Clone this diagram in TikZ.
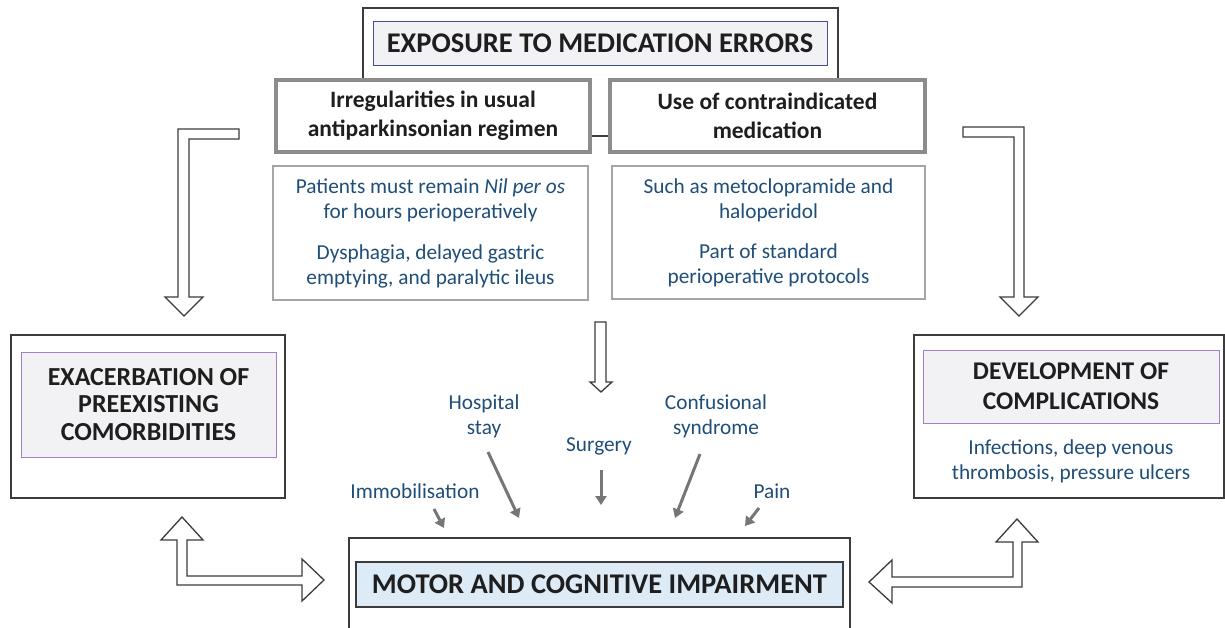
\documentclass[tikz,border=0pt]{standalone}
\usepackage{fontspec}
\setmainfont{Carlito}
\usetikzlibrary{arrows.meta}
\definecolor{txtblue}{RGB}{31,78,121}
\definecolor{txtdark}{RGB}{30,30,30}
\definecolor{garr}{RGB}{118,118,118}
\definecolor{gbord}{RGB}{140,140,140}
\definecolor{lbord}{RGB}{165,165,165}
\definecolor{obord}{RGB}{60,60,60}
\definecolor{expfill}{RGB}{242,242,246}
\definecolor{expbord}{RGB}{70,80,140}
\definecolor{purb}{RGB}{165,125,200}
\definecolor{purfill}{RGB}{242,242,244}
\definecolor{motfill}{RGB}{221,235,247}
\tikzset{
  outerbox/.style={draw=obord, line width=1.4pt, fill=white, rectangle, inner sep=0pt},
  graybox/.style={draw=gbord, line width=3.5pt, fill=white, rectangle, inner sep=0pt,
    align=center, text=txtdark, font=\fontsize{23.5}{29}\selectfont\bfseries},
  lightbox/.style={draw=lbord, line width=1.3pt, fill=white, rectangle, inner sep=0pt,
    align=center, text=txtblue, font=\fontsize{21.3}{25}\selectfont},
  titlebox/.style={rectangle, inner sep=0pt, align=center, text=txtdark,
    font=\fontsize{26}{27.5}\selectfont\bfseries},
  bluetxt/.style={inner sep=0pt, align=center, text=txtblue, font=\fontsize{21.3}{25}\selectfont},
  garrow/.style={draw=garr, line width=3pt, -{Triangle[length=9pt,width=11pt]}},
  hollow/.style={draw=obord, line width=1.3pt, fill=white, line join=miter}
}
\begin{document}
\begin{tikzpicture}[x=1pt,y=-1pt]
\useasboundingbox (0,0) rectangle (1225,627);
\fill[white] (0,0) rectangle (1225,627);

% top group
\node[outerbox, minimum width=475pt, minimum height=128pt] (outerTop) at (600.5,72) {};
\node[titlebox, draw=expbord, line width=1pt, fill=expfill, minimum width=454pt, minimum height=44pt,
  font=\fontsize{28.5}{30}\selectfont\bfseries] (expo) at (600,43) {EXPOSURE TO MEDICATION ERRORS};
\node[graybox, minimum width=314pt, minimum height=72pt] (irr) at (433,116)
  {Irregularities in usual\\antiparkinsonian regimen};
\node[graybox, minimum width=315pt, minimum height=72pt] (use) at (767.5,116)
  {Use of contraindicated\\medication};
\node[lightbox, minimum width=315pt, minimum height=134pt] (nil) at (430.5,233)
  {Patients must remain \textit{Nil per os}\\for hours perioperatively\\[16pt]Dysphagia, delayed gastric\\emptying, and paralytic ileus};
\node[lightbox, minimum width=313pt, minimum height=133pt] (such) at (768.5,232.5)
  {Such as metoclopramide and\\haloperidol\\[15pt]Part of standard\\perioperative protocols};

% left group
\node[outerbox, minimum width=274pt, minimum height=163pt] (leftBox) at (148,416.5) {};
\node[titlebox, draw=purb, line width=1pt, fill=purfill, minimum width=255pt, minimum height=105pt] (exac) at (148.5,404.5)
  {EXACERBATION OF\\PREEXISTING\\COMORBIDITIES};

% right group
\node[outerbox, minimum width=310pt, minimum height=163pt] (rightBox) at (1069,416.5) {};
\node[titlebox, draw=purb, line width=1pt, fill=purfill, minimum width=296pt, minimum height=73pt,
  font=\fontsize{25.5}{30}\selectfont\bfseries] (devel) at (1071,386.5)
  {DEVELOPMENT OF\\COMPLICATIONS};
\node[bluetxt] (infect) at (1071,461) {Infections, deep venous\\thrombosis, pressure ulcers};

% bottom group
\node[outerbox, minimum width=501pt, minimum height=110pt] (botBox) at (599.5,593) {};
\node[titlebox, draw=obord, line width=1.2pt, fill=motfill, minimum width=487pt, minimum height=45pt,
  font=\fontsize{28.5}{30}\selectfont\bfseries] (motor) at (599.5,584.5) {MOTOR AND COGNITIVE IMPAIRMENT};

% factor labels
\node[bluetxt] (hosp) at (484,416) {Hospital\\stay};
\node[bluetxt] (surg) at (599,446) {Surgery};
\node[bluetxt] (conf) at (716,416) {Confusional\\syndrome};
\node[bluetxt] (immo) at (415,491) {Immobilisation};
\node[bluetxt] (pain) at (772,491) {Pain};

% gray arrows
\coordinate (immoS) at (434,509); \coordinate (immoE) at (444,528);
\coordinate (hospS) at (488,452); \coordinate (hospE) at (519,518);
\coordinate (surgS) at (601,470); \coordinate (surgE) at (601,505);
\coordinate (confS) at (700,454); \coordinate (confE) at (675,518);
\coordinate (painS) at (759,508); \coordinate (painE) at (745,526);
\draw[garrow] (immoS) -- (immoE);
\draw[garrow] (hospS) -- (hospE);
\draw[garrow] (surgS) -- (surgE);
\draw[garrow] (confS) -- (confE);
\draw[garrow] (painS) -- (painE);

% hollow block arrows
\draw[hollow] (239,129) -- (178,129) -- (178,297) -- (165,297) -- (184,316) -- (203,297)
  -- (189,297) -- (189,139) -- (239,139) -- cycle;
\draw[hollow] (963,127) -- (1024,127) -- (1024,297) -- (1038,297) -- (1019,316) -- (1000,297)
  -- (1014,297) -- (1014,137) -- (963,137) -- cycle;
\draw[hollow] (595,322) -- (606,322) -- (606,382) -- (612,382) -- (601,392) -- (590,382)
  -- (595,382) -- cycle;
\draw[hollow] (182,517) -- (203,540) -- (187,540) -- (187,576) -- (302,576) -- (302,559)
  -- (324,580) -- (302,601) -- (302,585) -- (177,585) -- (177,540) -- (161,540) -- cycle;
\draw[hollow] (1017,519) -- (1038,542) -- (1022,542) -- (1022,587) -- (892,587) -- (892,603)
  -- (869,582) -- (892,560) -- (892,577) -- (1013,577) -- (1013,542) -- (996,542) -- cycle;
\end{tikzpicture}
\end{document}
